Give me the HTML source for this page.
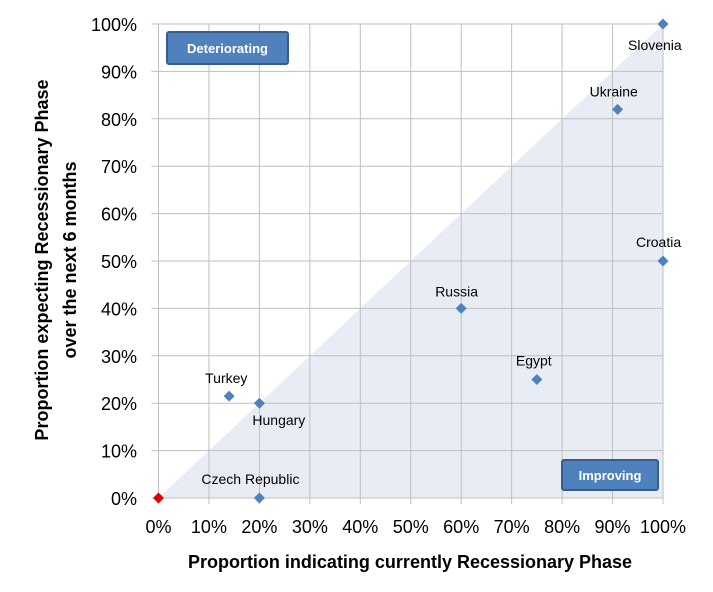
<!DOCTYPE html>
<html><head><meta charset="utf-8"><style>
body{margin:0;background:#fff;width:713px;height:587px;overflow:hidden;font-family:"Liberation Sans",sans-serif}
</style></head><body>
<svg id="chart" width="713" height="587" xmlns="http://www.w3.org/2000/svg">
<g id="grid"></g>
<g id="pts"></g>
<text x="410" y="568" text-anchor="middle" font-size="18" font-weight="bold" fill="#000">Proportion indicating currently Recessionary Phase</text>
<text transform="translate(48,260) rotate(-90)" text-anchor="middle" font-size="18" font-weight="bold" fill="#000"><tspan x="0" dy="0">Proportion expecting Recessionary Phase</tspan><tspan x="0" dy="28">over the next 6 months</tspan></text>
<g><rect x="167" y="32" width="121" height="32" rx="2" fill="#4f81bd" stroke="#385d8a" stroke-width="2"/><text x="227.5" y="53" text-anchor="middle" font-size="13" font-weight="bold" fill="#fff">Deteriorating</text></g>
<g><rect x="562" y="460" width="96" height="30" rx="2" fill="#4f81bd" stroke="#385d8a" stroke-width="2"/><text x="610" y="480" text-anchor="middle" font-size="13" font-weight="bold" fill="#fff">Improving</text></g>
</svg>
<script>
const names=["Slovenia","Ukraine","Croatia","Russia","Egypt","Turkey","Hungary","Czech Republic","Origin"];
const xVals=[100,91,100,60,75,14,20,20,0];
const yVals=[100,82,50,40,25,21.5,20,0,0];
const ticks=[0,10,20,30,40,50,60,70,80,90,100];
const labelOff=[[-35,26],[-28,-13],[-27,-14],[-26,-12],[-21,-14],[-24,-13],[-7,22],[-58,-14],[0,0]];
const NS="http://www.w3.org/2000/svg";
const X=v=>158.5+v*5.045, Y=v=>498-v*4.74;
const g=document.getElementById('grid'),p=document.getElementById('pts');
function mk(t,a,par){const e=document.createElementNS(NS,t);for(const k in a)e.setAttribute(k,a[k]);par.appendChild(e);return e;}
const tri=mk('polygon',{points:`${X(0)},${Y(0)} ${X(100)},${Y(100)} ${X(100)},${Y(0)}`,fill:'#e8edf5'},g);


ticks.forEach(t=>{
 const v=mk('line',{x1:X(t),x2:X(t),y1:Y(100),y2:Y(0)+6,stroke:'#bfbfbf'},g);
 
 
 const h=mk('line',{x1:X(0)-7,x2:X(100),y1:Y(t),y2:Y(t),stroke:'#bfbfbf'},g);
 
 
 const xl=mk('text',{x:X(t),y:533,'text-anchor':'middle','font-size':18,fill:'#000'},g);xl.textContent=t+'%';
 
 
 const yl=mk('text',{x:137,y:Y(t)+7,'text-anchor':'end','font-size':18,fill:'#000'},g);yl.textContent=t+'%';
 
 
});
xVals.forEach((xv,i)=>{
 const cx=X(xv),cy=Y(yVals[i]);
 const d=mk('polygon',{points:`${cx},${cy-5.5} ${cx+5.5},${cy} ${cx},${cy+5.5} ${cx-5.5},${cy}`,fill:i==8?'#e00000':'#4f81bd'},p);
 
 
 if(i<8){const t=mk('text',{x:cx+labelOff[i][0],y:cy+labelOff[i][1],'font-size':14,fill:'#000'},p);t.textContent=names[i];
 
 }
});
</script>
</body></html>
